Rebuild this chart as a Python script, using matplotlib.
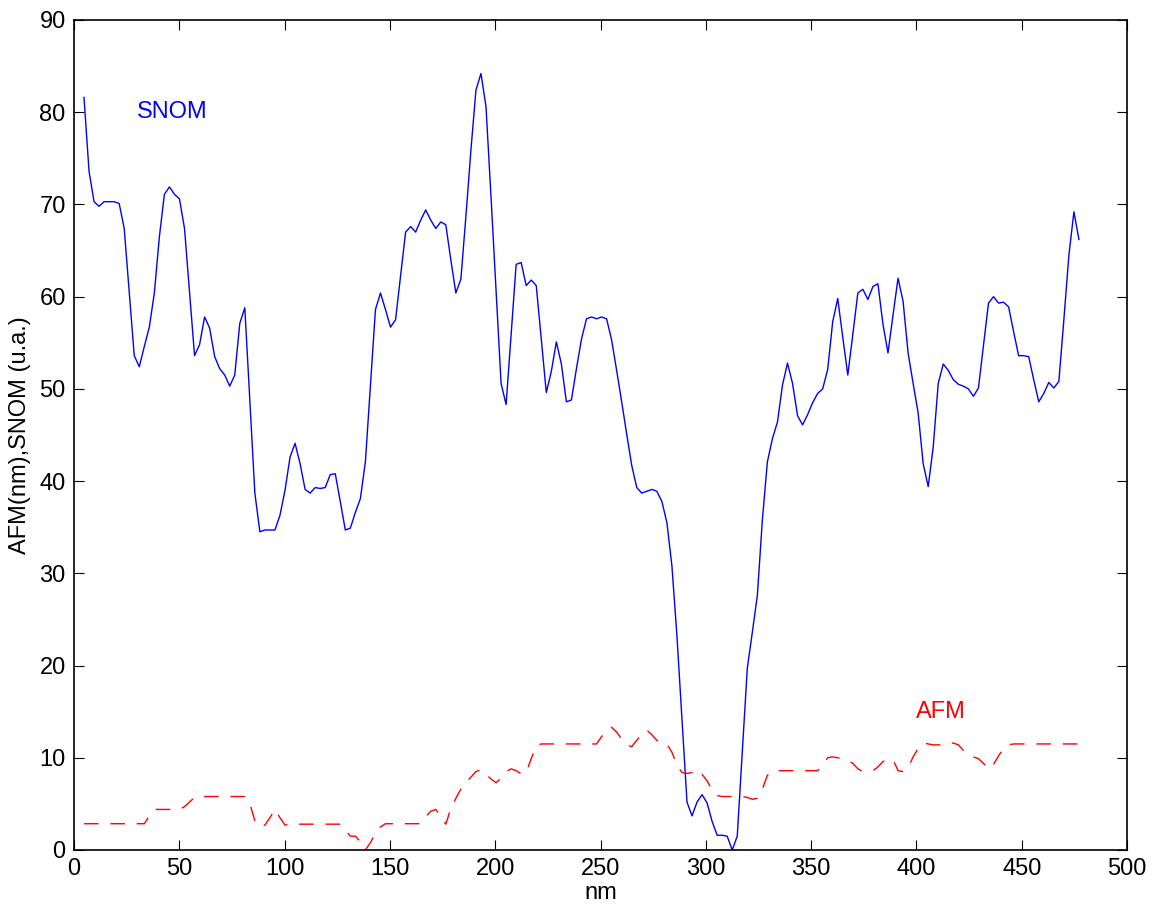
import numpy as np
import matplotlib
matplotlib.use("Agg")
import matplotlib.pyplot as plt

plt.rcParams['font.family'] = ['Liberation Sans', 'DejaVu Sans']
plt.rcParams['lines.scale_dashes'] = False

# sampling grid (nm)
x_start = 4.75
x_step = 2.386

snom = [
    81.6, 73.6, 70.3, 69.8, 70.3, 70.3, 70.3, 70.1, 67.4, 60.5,
    53.6, 52.4, 54.6, 56.7, 60.4, 66.5, 71.1, 71.9, 71.1, 70.6,
    67.4, 60.5, 53.6, 54.8, 57.8, 56.6, 53.5, 52.2, 51.5, 50.3,
    51.5, 57.1, 58.8, 48.7, 38.7, 34.5, 34.7, 34.7, 34.7, 36.3,
    39.0, 42.6, 44.1, 41.9, 39.1, 38.7, 39.3, 39.2, 39.3, 40.7,
    40.8, 37.8, 34.7, 34.9, 36.6, 38.1, 42.1, 50.4, 58.6, 60.4,
    58.6, 56.7, 57.5, 62.3, 67.0, 67.6, 67.0, 68.3, 69.4, 68.3,
    67.4, 68.1, 67.8, 64.0, 60.4, 61.9, 68.7, 75.9, 82.4, 84.2,
    80.6, 70.8, 60.7, 50.6, 48.3, 55.9, 63.5, 63.7, 61.2, 61.8,
    61.2, 55.4, 49.6, 51.9, 55.1, 52.7, 48.6, 48.8, 52.2, 55.4,
    57.6, 57.8, 57.6, 57.8, 57.6, 55.3, 52.0, 48.6, 45.1, 41.7,
    39.3, 38.7, 38.9, 39.1, 38.9, 37.8, 35.5, 30.8, 23.2, 14.2,
    5.2, 3.7, 5.2, 6.0, 5.1, 3.1, 1.6, 1.6, 1.5, 0.0,
    1.5, 10.7, 19.7, 23.6, 27.6, 35.8, 42.1, 44.6, 46.4, 50.4,
    52.8, 50.6, 47.1, 46.1, 47.2, 48.5, 49.5, 50.0, 52.1, 57.3,
    59.8, 55.6, 51.5, 55.9, 60.4, 60.8, 59.7, 61.1, 61.4, 57.0,
    53.9, 58.0, 62.0, 59.5, 53.9, 50.6, 47.4, 41.9, 39.4, 43.7,
    50.6, 52.7, 52.0, 51.0, 50.5, 50.3, 50.0, 49.2, 50.1, 54.7,
    59.3, 60.0, 59.3, 59.4, 58.9, 56.2, 53.6, 53.6, 53.5, 51.0,
    48.6, 49.5, 50.7, 50.1, 50.8, 57.5, 64.5, 69.2, 66.2,
]

afm = [
    2.85, 2.85, 2.85, 2.85, 2.85, 2.85, 2.85, 2.85, 2.85, 2.85,
    2.85, 2.85, 2.85, 3.7, 4.4, 4.4, 4.4, 4.4, 4.4, 4.4,
    4.7, 5.2, 5.7, 5.8, 5.8, 5.8, 5.8, 5.8, 5.8, 5.8,
    5.8, 5.8, 5.8, 5.0, 3.2, 2.5, 2.7, 3.5, 4.4, 3.5,
    2.7, 2.8, 2.8, 2.8, 2.8, 2.8, 2.8, 2.8, 2.8, 2.8,
    2.8, 2.8, 2.2, 1.5, 1.5, 0.9, 0.0, 0.8, 1.8, 2.5,
    2.85, 2.85, 2.85, 2.85, 2.85, 2.85, 2.85, 2.85, 3.6, 4.2,
    4.4, 3.6, 2.8, 4.5, 5.6, 6.6, 7.3, 7.9, 8.5, 8.7,
    8.2, 7.7, 7.3, 7.8, 8.5, 8.8, 8.6, 8.25, 8.4, 9.9,
    11.3, 11.5, 11.5, 11.5, 11.5, 11.5, 11.5, 11.5, 11.5, 11.5,
    11.5, 11.5, 11.5, 12.3, 13.0, 13.3, 12.8, 12.0, 11.4, 11.2,
    11.9, 12.5, 13.0, 12.5, 11.9, 11.6, 11.5, 10.6, 9.2, 8.4,
    8.3, 8.4, 8.7, 8.2, 7.5, 6.5, 5.9, 5.8, 5.8, 5.8,
    5.8, 5.8, 5.7, 5.5, 5.6, 6.6, 8.1, 8.6, 8.6, 8.6,
    8.6, 8.6, 8.6, 8.6, 8.6, 8.6, 8.6, 9.2, 10.0, 10.1,
    10.0, 9.9, 9.7, 9.4, 8.8, 8.5, 8.5, 8.6, 9.0, 9.6,
    9.8, 9.8, 8.6, 8.5, 8.9, 10.1, 11.0, 11.6, 11.5, 11.4,
    11.4, 11.4, 11.5, 11.6, 11.4, 10.8, 10.3, 10.1, 9.9, 9.4,
    8.8, 9.3, 10.2, 11.0, 11.4, 11.5, 11.5, 11.5, 11.5, 11.5,
    11.5, 11.5, 11.5, 11.5, 11.5, 11.5, 11.5, 11.5, 11.5,
]

x_ticks = [0, 50, 100, 150, 200, 250, 300, 350, 400, 450, 500]
y_ticks = [0, 10, 20, 30, 40, 50, 60, 70, 80, 90]

n = min(len(snom), len(afm))
x = x_start + x_step * np.arange(n)

fig = plt.figure(figsize=(11.53, 9.11), dpi=100)
ax = fig.add_axes([74/1153, 1 - 850/911, (1127-74)/1153, (850-20)/911])

ax.plot(x, snom[:n], color=(0, 0, 1), linewidth=1.0)
ax.plot(x, afm[:n], color=(1, 0, 0), linewidth=1.0, dashes=(10.5, 8.5))

ax.text(30, 80, 'SNOM', color=(0, 0, 1), fontsize=17, va='center', ha='left')
ax.text(400, 15, 'AFM', color=(1, 0, 0), fontsize=17, va='center', ha='left')

ax.set_xlim(0, 500)
ax.set_ylim(0, 90)
ax.set_xticks(x_ticks)
ax.set_yticks(y_ticks)
ax.tick_params(direction='in', length=7, width=0.8, top=True, right=True,
               labelsize=17, pad=6, colors='black')
for s in ax.spines.values():
    s.set_linewidth(1.2)

ax.set_xlabel('nm', fontsize=17, labelpad=1)
ax.set_ylabel('AFM(nm),SNOM (u.a.)', fontsize=17, labelpad=6)

fig.savefig('out.png', dpi=100)
